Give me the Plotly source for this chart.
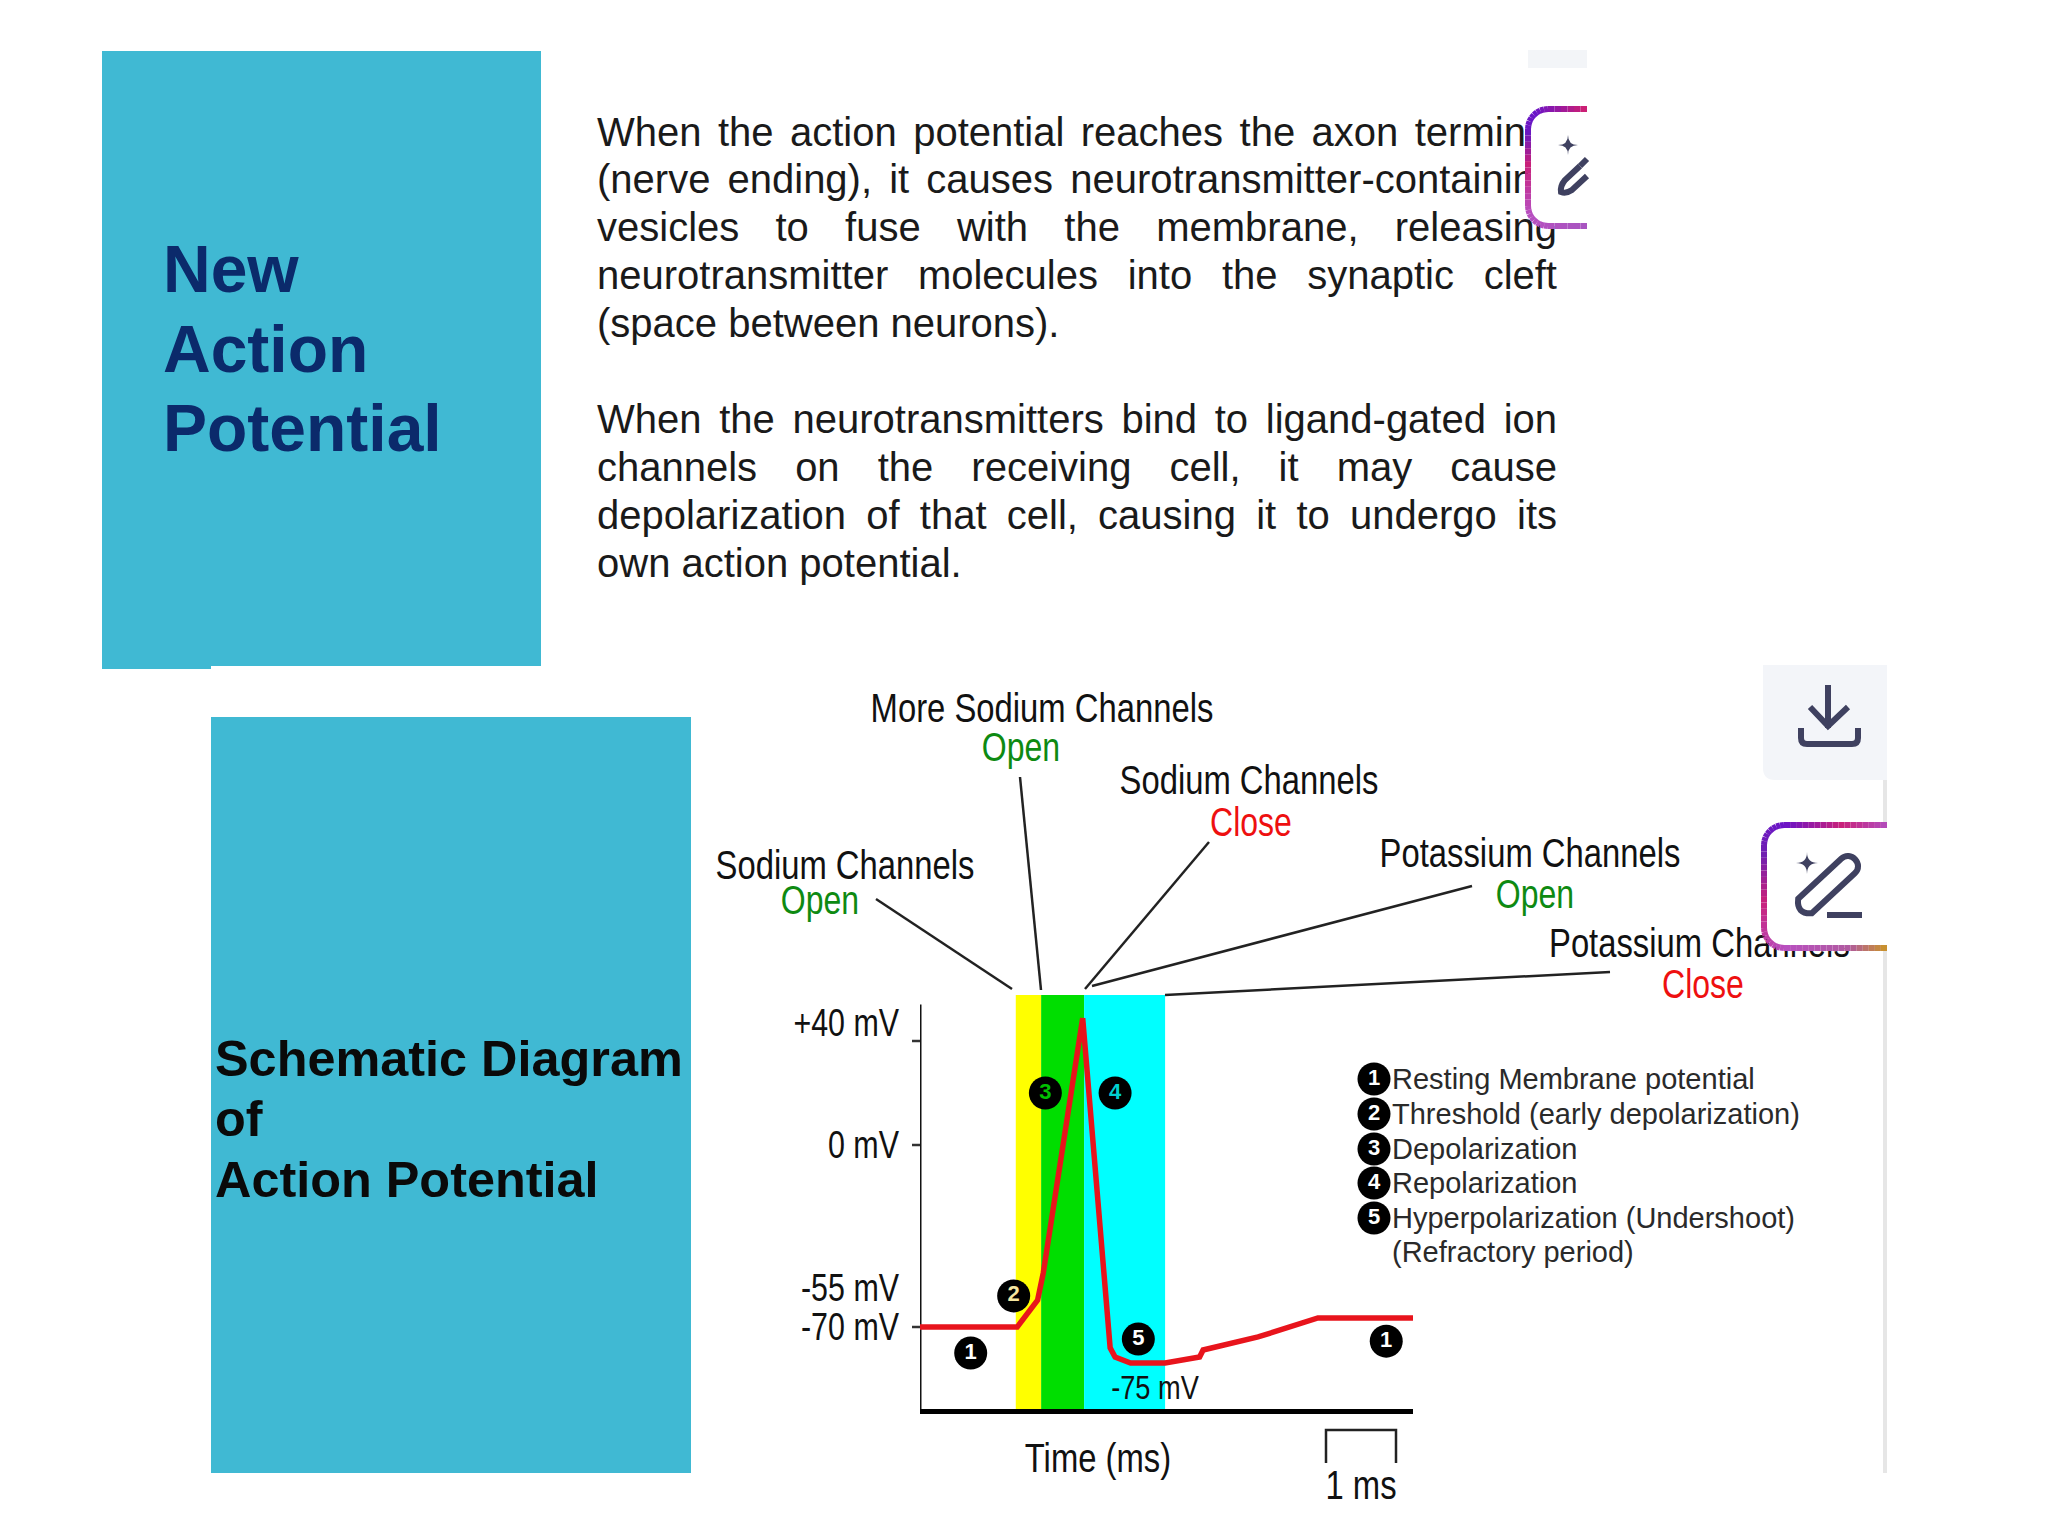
import math
import plotly.graph_objects as go

# ---- chart data (time in ms, membrane potential in mV as drawn) ----
time_ms = [0, 1.38, 1.67, 1.75, 2.31, 2.70, 2.77, 2.99, 3.48, 3.97, 4.02, 4.80, 5.65, 7.0]
voltage = [-70, -70, -59.6, -49.2, 48.8, -78, -81.5, -83.8, -83.8, -81.5, -78.8, -73.8, -66.5, -66.5]
band_edges = [1.36, 1.72, 2.33, 3.48]
band_colors = ["#FFFF00", "#00DE00", "#00FFFF"]
y_ticks = [47, 0, -55, -70]
y_tick_text = ["+40 mV", "0 mV", "-55 mV", "-70 mV"]
badge_t = [0.72, 1.33, 1.78, 2.77, 3.10, 6.62]
badge_v = [-80, -58, 20, 20, -74.6, -75.4]
badge_n = ["1", "2", "3", "4", "5", "1"]
badge_c = ["white", "#F5E6A0", "#00C000", "#00D0D0", "white", "white"]

# ---- text content ----
para_lines = [
    "When the action potential reaches the axon terminal",
    "(nerve ending), it causes neurotransmitter-containing",
    "vesicles to fuse with the membrane, releasing",
    "neurotransmitter molecules into the synaptic cleft",
    "(space between neurons).",
    "When the neurotransmitters bind to ligand-gated ion",
    "channels on the receiving cell, it may cause",
    "depolarization of that cell, causing it to undergo its",
    "own action potential.",
]
para_y = [136, 183, 231, 279, 327, 423, 471, 519, 567]
para_justified = [1, 1, 1, 1, 0, 1, 1, 1, 0]
title_a = ["New", "Action", "Potential"]
title_a_y = [275, 355, 434]
title_b = ["Schematic Diagram", "of", "Action Potential"]
title_b_y = [1063, 1123, 1184]
legend_text = ["Resting Membrane potential", "Threshold (early depolarization)", "Depolarization",
               "Repolarization", "Hyperpolarization (Undershoot)", "(Refractory period)"]
legend_y = [1079, 1114, 1149, 1183, 1218, 1252]
legend_num = ["1", "2", "3", "4", "5"]
channel_black = ["More Sodium Channels", "Sodium Channels", "Sodium Channels", "Potassium Channels"]
channel_black_x = [1042, 1249, 845, 1530]
channel_black_y = [712, 784, 869, 857]
state_text = ["Open", "Close", "Open", "Open", "Close"]
state_col = ["#0E8A12", "#EE1010", "#0E8A12", "#0E8A12", "#EE1010"]
state_x = [1021, 1251, 820, 1535, 1703]
state_y = [751, 826, 904, 898, 988]
leaders = [((876, 899), (1012, 989)), ((1020, 777), (1041, 990)), ((1209, 842), (1085, 989)),
           ((1472, 886), (1092, 986)), ((1610, 972), (1165, 995))]
axis_tick_py = [1041, 1145, 1327]

NARROW = "Liberation Sans Narrow, Liberation Sans"
SANS = "Liberation Sans, Arial"
BLUE = "#40B9D3"
ICON = "#3F4160"

# Helvetica widths, to justify the paragraph lines word by word
W = dict(zip("abcdefghijklmnopqrstuvwxyz",
             [.556,.556,.5,.556,.556,.278,.556,.556,.222,.222,.5,.222,.833,.556,.556,.556,.556,.333,.5,.278,.556,.5,.722,.5,.5,.5]))
W.update({"W": .944, "(": .333, ")": .333, ",": .278, ".": .278, "-": .333, " ": .278})
def text_w(s, size):
    return sum(W.get(c, .556) for c in s) * size

FS = 40
LEFT, RIGHT = 597, 1557
wx, wy, wt = [], [], []
for line, yy, just in zip(para_lines, para_y, para_justified):
    words = line.split(" ")
    gap = (RIGHT - LEFT - sum(text_w(w, FS) for w in words)) / (len(words) - 1) if just else .278 * FS
    x = LEFT
    for w in words:
        wx.append(x); wy.append(yy); wt.append(w)
        x += text_w(w, FS) + gap

y_bottom, y_top = -101.5, 57.7
fig = go.Figure()

def page_text(xs, ys, ts, size, color, family=SANS, pos="middle right", weight=None):
    fig.add_trace(go.Scatter(x=xs, y=ys, text=ts, mode="text", textposition=pos, xaxis="x2", yaxis="y2",
                             textfont=dict(size=size, color=color, family=family, weight=weight),
                             cliponaxis=False, hoverinfo="skip"))

def page_line(p, q, width=2.5, color="#222"):
    fig.add_trace(go.Scatter(x=[p[0], q[0]], y=[p[1], q[1]], mode="lines", xaxis="x2", yaxis="y2",
                             line=dict(color=color, width=width), hoverinfo="skip"))

# ---- the chart ----
fig.add_trace(go.Scatter(x=[0, 0], y=[y_bottom, 54], mode="lines", line=dict(color="#111", width=3),
                         hoverinfo="skip", cliponaxis=False))
fig.add_trace(go.Scatter(x=time_ms, y=voltage, mode="lines", line=dict(color="#E8141C", width=5.5),
                         hoverinfo="skip", cliponaxis=False))
fig.add_trace(go.Scatter(x=badge_t, y=badge_v, text=badge_n, mode="markers+text", textposition="middle center",
                         marker=dict(size=33, color="black"),
                         textfont=dict(size=22, color=badge_c, family=SANS, weight=700),
                         hoverinfo="skip", cliponaxis=False))

# ---- page texts ----
page_text(wx, wy, wt, FS, "#1A1A1A")
page_text([163] * 3, title_a_y, title_a, 66, "#0B2A6B", weight=700)
page_text([215] * 3, title_b_y, title_b, 50.4, "#0A0A0A", weight=700)
page_text(channel_black_x, channel_black_y, channel_black, 41, "#111111", NARROW, "middle center")
page_text([1549], [947], ["Potassium Channels"], 41, "#111111", NARROW)
page_text(state_x, state_y, state_text, 40, state_col, NARROW, "middle center")
page_text([1098], [1462], ["Time (ms)"], 41, "#111111", NARROW, "middle center")
page_text([1361], [1489], ["1 ms"], 41, "#111111", NARROW, "middle center")
page_text([1155], [1390], ["-75 mV"], 34, "#111111", NARROW, "middle center")
page_text([1392] * 6, [v + 3 for v in legend_y], legend_text, 29, "#2A2A2A")
fig.add_trace(go.Scatter(x=[1374] * 5, y=legend_y[:5], text=legend_num, mode="markers+text",
                         textposition="middle center", xaxis="x2", yaxis="y2",
                         marker=dict(size=33, color="black"),
                         textfont=dict(size=22, color="white", family=SANS, weight=700),
                         hoverinfo="skip", cliponaxis=False))
for p, q in leaders:
    page_line(p, q)
for t in axis_tick_py:
    page_line((912, t), (920, t), width=2.5, color="#333")
fig.add_trace(go.Scatter(x=[1326, 1326, 1396, 1396], y=[1463, 1430, 1430, 1463], mode="lines", xaxis="x2", yaxis="y2",
                         line=dict(color="#222", width=2.5), hoverinfo="skip"))

# ---- shapes ----
shapes = []
def prect(x0, y0, x1, y1, color, layer="below"):
    shapes.append(dict(type="rect", xref="x2", yref="y2", x0=x0, y0=y0, x1=x1, y1=y1,
                       fillcolor=color, line_width=0, layer=layer))
def ppath(d, color=None, fill=None, width=5, layer="above"):
    shapes.append(dict(type="path", xref="x2", yref="y2", path=d, layer=layer,
                       fillcolor=fill or "rgba(0,0,0,0)",
                       line=dict(color=color or "rgba(0,0,0,0)", width=width if color else 0)))

prect(102, 51, 541, 666, BLUE)
prect(102, 660, 211, 669, BLUE)
prect(211, 717, 691, 1473, BLUE)

# bands
for i, c in enumerate(band_colors):
    shapes.append(dict(type="rect", xref="x", yref="y", x0=band_edges[i], x1=band_edges[i + 1],
                       y0=y_bottom, y1=y_top, fillcolor=c, line_width=0, layer="below"))

# browser-extension style icons
def hexc(h):
    return [int(h[i:i + 2], 16) for i in (1, 3, 5)]
def grad(stops, t):
    for (a, ca), (b, cb) in zip(stops, stops[1:]):
        if t <= b:
            f = (t - a) / (b - a)
            r = [round(u + (v - u) * f) for u, v in zip(hexc(ca), hexc(cb))]
            return "rgb(%d,%d,%d)" % tuple(r)
    return stops[-1][1]

def gradient_box(x0, y0, x1, y1, stops, r=20):
    # white body with rounded left corners, open and cut off on the right
    k = r * 0.45
    body = (f"M{x1},{y0} L{x0+r},{y0} C{x0+k},{y0} {x0},{y0+k} {x0},{y0+r} L{x0},{y1-r} "
            f"C{x0},{y1-k} {x0+k},{y1} {x0+r},{y1} L{x1},{y1} Z")
    ppath(body, fill="white")
    pts = [(x1, y0), (x0 + r, y0)]
    for i in range(1, 8):
        a = math.pi / 2 * i / 8
        pts.append((x0 + r - r * math.sin(a), y0 + r - r * math.cos(a)))
    pts.append((x0, y0 + r)); pts.append((x0, y1 - r))
    for i in range(1, 8):
        a = math.pi / 2 * i / 8
        pts.append((x0 + r - r * math.cos(a), y1 - r + r * math.sin(a)))
    pts.append((x0 + r, y1)); pts.append((x1, y1))
    # subdivide
    fine = []
    for p, q in zip(pts, pts[1:]):
        n = max(1, int(math.dist(p, q) // 6))
        fine += [(p[0] + (q[0] - p[0]) * j / n, p[1] + (q[1] - p[1]) * j / n) for j in range(n)]
    fine.append(pts[-1])
    total = sum(math.dist(p, q) for p, q in zip(fine, fine[1:]))
    s = 0
    for p, q in zip(fine, fine[1:]):
        s += math.dist(p, q)
        ppath(f"M{p[0]:.1f},{p[1]:.1f} L{q[0]:.1f},{q[1]:.1f}", color=grad(stops, s / total), width=6)

def star(cx, cy, r):
    ppath(f"M{cx},{cy-r} Q{cx},{cy} {cx+r},{cy} Q{cx},{cy} {cx},{cy+r} Q{cx},{cy} {cx-r},{cy} Q{cx},{cy} {cx},{cy-r} Z",
          fill=ICON)

# top clipped strip + box
prect(1528, 50, 1587, 68, "#F3F5F8")
gradient_box(1528, 109, 1587, 226,
             [(0, "#D8206A"), (.25, "#6A14C8"), (.36, "#6A18C0"), (.5, "#C8207A"), (.72, "#B84FC0"), (1, "#A855C0")])
star(1568, 145, 10)
ppath("M1580,166 L1565,180 Q1560,186 1561,192 Q1566,194 1572,190 L1587,176", color=ICON, width=6)
ppath("M1580,166 L1587,159", color=ICON, width=6)

# download tile, scroll bar
prect(1883, 780, 1887, 1473, "#E6E6E6")
shapes.append(dict(type="path", xref="x2", yref="y2", layer="above", fillcolor="#F3F5F9", line_width=0,
                   path="M1763,665 L1887,665 L1887,780 L1775,780 Q1763,780 1763,768 Z"))
ppath("M1828,685 L1828,728", color=ICON, width=6)
ppath("M1810,707 L1828,726 L1848,707", color=ICON, width=6)
ppath("M1801,728 L1801,738 Q1801,744 1807,744 L1852,744 Q1858,744 1858,738 L1858,728", color=ICON, width=6)

# pencil tile
gradient_box(1764, 825, 1887, 948,
             [(0, "#B050C0"), (.14, "#C8207A"), (.3, "#6A14C8"), (.42, "#7020B0"), (.55, "#C8207A"),
              (.72, "#B850C0"), (.9, "#B05AA0"), (1, "#C89030")])
star(1807, 863, 11)
ax, ay, bx, by, h = 1805, 906, 1848, 866, 10
L = math.hypot(bx - ax, by - ay)
dx, dy = (bx - ax) / L, (by - ay) / L
nx, ny = -dy, dx
ppath(f"M{ax+nx*h:.1f},{ay+ny*h:.1f} L{bx+nx*h:.1f},{by+ny*h:.1f} "
      f"C{bx+nx*h+dx*h*1.3:.1f},{by+ny*h+dy*h*1.3:.1f} {bx-nx*h+dx*h*1.3:.1f},{by-ny*h+dy*h*1.3:.1f} {bx-nx*h:.1f},{by-ny*h:.1f} "
      f"L{ax-nx*h:.1f},{ay-ny*h:.1f} Q{ax-dx*h*1.2:.1f},{ay-dy*h*1.2:.1f} {ax+nx*h:.1f},{ay+ny*h:.1f} Z",
      color=ICON, width=6)
ppath("M1827,915 L1862,915", color=ICON, width=6)

fig.update_layout(
    width=2048, height=1536, margin=dict(l=0, r=0, t=0, b=0, pad=0, autoexpand=False), showlegend=False,
    paper_bgcolor="white", plot_bgcolor="rgba(0,0,0,0)", hovermode=False, shapes=shapes,
    xaxis=dict(domain=[920 / 2048, 1413 / 2048], range=[0, 7], showgrid=False, zeroline=False,
               showticklabels=False, showline=True, linecolor="black", linewidth=5, anchor="y"),
    yaxis=dict(domain=[1 - 1409 / 1536, 1 - 995 / 1536], range=[y_bottom, y_top], showgrid=False, zeroline=False,
               tickvals=y_ticks, ticktext=y_tick_text, ticks="", ticklabelstandoff=20, anchor="x",
               tickfont=dict(family=NARROW, size=38, color="#111111")),
    xaxis2=dict(domain=[0, 1], range=[0, 2048], visible=False, anchor="y2"),
    yaxis2=dict(domain=[0, 1], range=[1536, 0], visible=False, anchor="x2"),
)
# No condensed face is installed: squeeze the glyphs of the narrow labels the way the original is set
squeeze = """
document.body.style.margin='0';document.body.style.overflow='hidden';
document.querySelectorAll('svg text').forEach(function(t){
  if ((t.style.fontFamily||'').indexOf('Narrow')>=0 && t.textContent.length>1){
    var w=t.getComputedTextLength();
    t.setAttribute('lengthAdjust','spacingAndGlyphs');
    t.setAttribute('textLength',(w*0.80).toFixed(1));
  }
});
"""
fig.write_html("out.html", config={"displayModeBar": False}, post_script=squeeze)
